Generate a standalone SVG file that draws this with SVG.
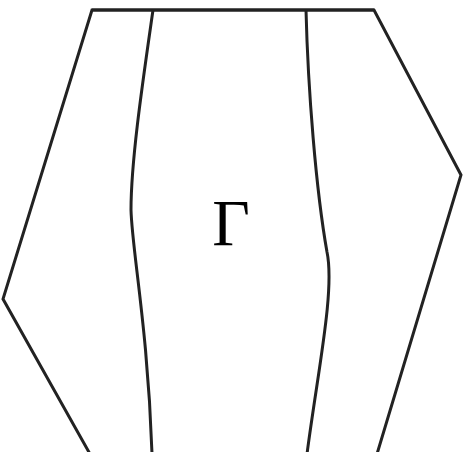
<svg xmlns="http://www.w3.org/2000/svg" width="466" height="452" viewBox="0 0 466 452">
<style>
.ln{fill:none;stroke:#222;stroke-width:3;stroke-linejoin:miter;stroke-linecap:butt}
.lbl{font-family:"Liberation Serif",serif;font-size:65px;fill:#000}
</style>
<rect width="466" height="452" fill="#fff"/>
<g id="outline">
<path class="ln" d="M90,454 L3,299 L92,10 L374,10 L461,175 L377,454"/>
<path class="ln" d="M92,10 L374,10" stroke-width="4"/>
</g>
<g id="connectors">
<path class="ln" d="M153,10 C143,80 131,160 131,210 C132,250 148,330 152,454"/>
<path class="ln" d="M306,10 C308,90 316,190 327,252 C335,290 318,370 307,454"/>
</g>
<g id="label">
<text class="lbl" x="231" y="245" text-anchor="middle">Γ</text>
</g>
</svg>
